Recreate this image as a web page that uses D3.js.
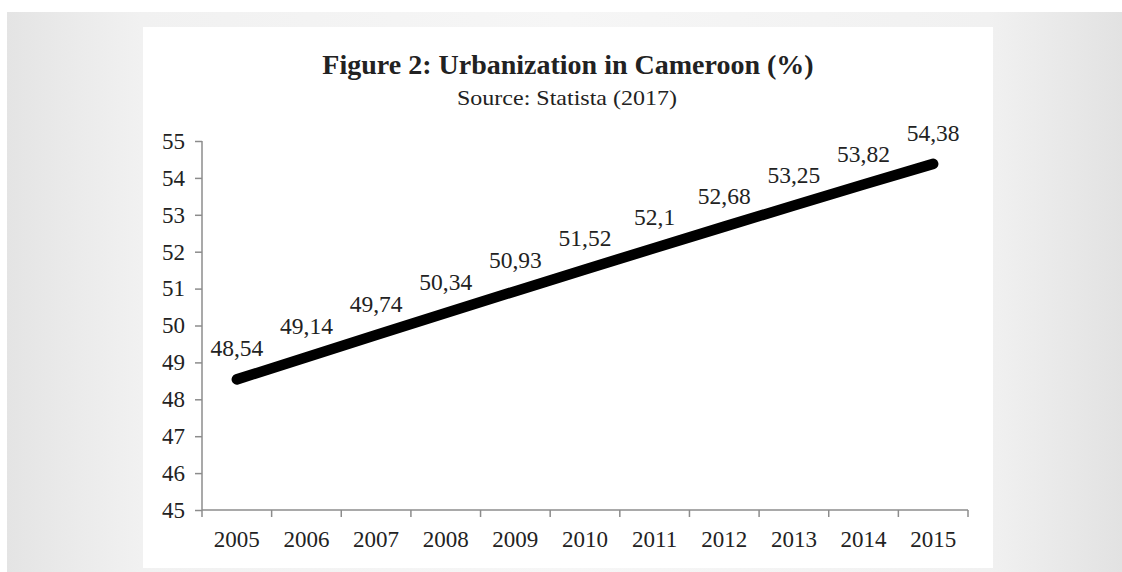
<!DOCTYPE html>
<html>
<head>
<meta charset="utf-8">
<script src="https://cdn.jsdelivr.net/npm/d3@7"></script>
<style>
  html, body { margin: 0; padding: 0; background: #ffffff; }
  svg { display: block; }
</style>
</head>
<body>
<svg id="chart" width="1122" height="572"></svg>
<script>
// Urban population share of Cameroon, 2005-2015
const years = ["2005", "2006", "2007", "2008", "2009", "2010", "2011", "2012", "2013", "2014", "2015"];
const urbanShare = [48.54, 49.14, 49.74, 50.34, 50.93, 51.52, 52.1, 52.68, 53.25, 53.82, 54.38];
const yTicks = [45, 46, 47, 48, 49, 50, 51, 52, 53, 54, 55];
const titleText = "Figure 2: Urbanization in Cameroon (%)";
const subtitleText = "Source: Statista (2017)";

const svg = d3.select("#chart");
const W = 1122, H = 572;

// Slide backdrop: soft grey gradient behind a white panel
const defs = svg.append("defs");
const grad = defs.append("linearGradient").attr("id", "bg").attr("x1", "0").attr("x2", "1").attr("y1", "0").attr("y2", "0");
grad.append("stop").attr("offset", "0").attr("stop-color", "#e4e4e4");
grad.append("stop").attr("offset", "0.12").attr("stop-color", "#f1f1f1");
grad.append("stop").attr("offset", "0.5").attr("stop-color", "#f6f6f6");
grad.append("stop").attr("offset", "0.88").attr("stop-color", "#f1f1f1");
grad.append("stop").attr("offset", "1").attr("stop-color", "#e2e2e2");

svg.append("rect").attr("x", 7).attr("y", 12).attr("width", W - 7).attr("height", H - 12).attr("fill", "url(#bg)");
svg.append("rect").attr("x", 143).attr("y", 27).attr("width", 850).attr("height", 541).attr("fill", "#ffffff");

const margin = { left: 202, right: 968, top: 141, bottom: 510 };

const x = d3.scaleBand().domain(years).range([margin.left, margin.right]).padding(0);
const y = d3.scaleLinear().domain([45, 55]).range([margin.bottom, margin.top]);

const serif = "'Liberation Serif', 'Times New Roman', serif";
const axisColor = "#8c8c8c";
const ink = "#222222";

// Title and source
svg.append("text")
  .attr("x", 568).attr("y", 74)
  .attr("text-anchor", "middle")
  .attr("font-family", serif).attr("font-weight", "bold").attr("font-size", 28)
  .attr("fill", ink)
  .text(titleText);
svg.append("text")
  .attr("x", 567).attr("y", 105)
  .attr("text-anchor", "middle")
  .attr("font-family", serif).attr("font-size", 22)
  .attr("textLength", 220).attr("lengthAdjust", "spacingAndGlyphs")
  .attr("fill", ink)
  .text(subtitleText);

// Y axis
const yAxis = d3.axisLeft(y).tickValues(yTicks).tickSize(7).tickPadding(10).tickFormat(d3.format("d"));
const gy = svg.append("g").attr("transform", `translate(${margin.left},0)`).call(yAxis);
gy.select(".domain").attr("stroke", axisColor).attr("stroke-width", 1.5)
  .attr("d", `M0,${margin.bottom}V${margin.top}`);
gy.selectAll(".tick line").attr("stroke", axisColor).attr("stroke-width", 1.5);
gy.selectAll(".tick text").attr("font-family", serif).attr("font-size", 23).attr("fill", ink);

// X axis with ticks at category boundaries
const gx = svg.append("g").attr("transform", `translate(0,${margin.bottom})`)
  .call(d3.axisBottom(x).tickSize(0).tickPadding(21));
gx.select(".domain").attr("stroke", axisColor).attr("stroke-width", 1.5)
  .attr("d", `M${margin.left},0H${margin.right}`);
gx.selectAll(".tick text").attr("font-family", serif).attr("font-size", 23).attr("fill", ink);
const boundaries = years.map(d => x(d) + x.bandwidth()).concat([x(years[0])]);
gx.selectAll("line.sep").data(boundaries).join("line")
  .attr("class", "sep")
  .attr("x1", d => d).attr("x2", d => d)
  .attr("y1", 0).attr("y2", 7)
  .attr("stroke", axisColor).attr("stroke-width", 1.5);

// Data line
const pts = years.map((yr, i) => ({ yr, v: urbanShare[i] }));
const line = d3.line().x(d => x(d.yr) + x.bandwidth() / 2).y(d => y(d.v));
svg.append("path")
  .datum(pts)
  .attr("d", line)
  .attr("fill", "none")
  .attr("stroke", "#000000")
  .attr("stroke-width", 10.5)
  .attr("stroke-linecap", "round")
  .attr("stroke-linejoin", "round");

// Value labels above each point, decimal comma
const fmt = v => String(v).replace(".", ",");
svg.selectAll("text.val").data(pts).join("text")
  .attr("class", "val")
  .attr("x", d => x(d.yr) + x.bandwidth() / 2)
  .attr("y", d => y(d.v) - 23)
  .attr("text-anchor", "middle")
  .attr("font-family", serif).attr("font-size", 23.5)
  .attr("fill", ink)
  .text(d => fmt(d.v));
</script>
</body>
</html>
